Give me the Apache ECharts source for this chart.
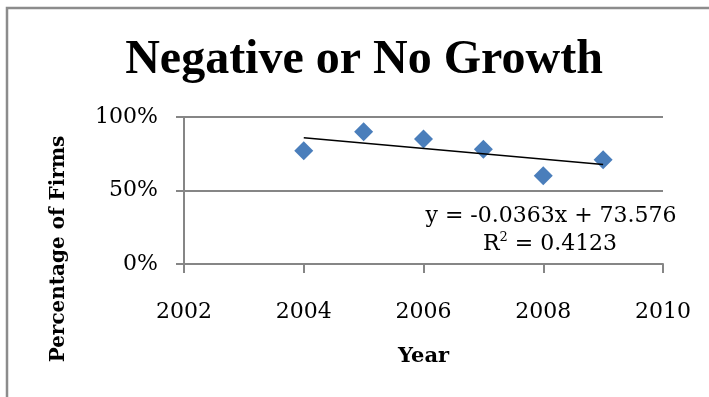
<!DOCTYPE html>
<html>
<head>
<meta charset="utf-8">
<style>
  html, body { margin: 0; padding: 0; background: #ffffff; }
  #chart { width: 709px; height: 397px; }
</style>
<script src="https://cdn.jsdelivr.net/npm/echarts@6/dist/echarts.min.js"></script>
</head>
<body>
<div id="chart"></div>
<script>
// Share of firms reporting negative or no growth, by year
const years = [2004, 2005, 2006, 2007, 2008, 2009];
const shareOfFirms = [0.77, 0.90, 0.85, 0.78, 0.60, 0.71];

// Axis ranges and tick spacing
const xTicks = [2002, 2004, 2006, 2008, 2010];
const yTicks = [0, 0.5, 1];

const titleText = 'Negative or No Growth';
const xTitle = 'Year';
const yTitle = 'Percentage of Firms';

// Ordinary least-squares fit for the linear trendline
function linearFit(xs, ys) {
  const n = xs.length;
  const mx = xs.reduce((s, v) => s + v, 0) / n;
  const my = ys.reduce((s, v) => s + v, 0) / n;
  let sxy = 0, sxx = 0, syy = 0;
  for (let i = 0; i < n; i++) {
    sxy += (xs[i] - mx) * (ys[i] - my);
    sxx += (xs[i] - mx) * (xs[i] - mx);
    syy += (ys[i] - my) * (ys[i] - my);
  }
  const slope = sxy / sxx;
  const intercept = my - slope * mx;
  const r2 = (sxy * sxy) / (sxx * syy);
  return { slope, intercept, r2 };
}

const fit = linearFit(years, shareOfFirms);
const xStart = years[0], xEnd = years[years.length - 1];
const trendData = [
  [xStart, fit.intercept + fit.slope * xStart],
  [xEnd, fit.intercept + fit.slope * xEnd]
];
const eqLine = 'y = ' + fit.slope.toFixed(4) + 'x + ' + fit.intercept.toFixed(3);
const r2Value = fit.r2.toFixed(4);

const axisGray = '#868686';
const tickFont = { fontFamily: 'DejaVu Serif', fontSize: 22, color: '#000' };

const chart = echarts.init(document.getElementById('chart'), null, { renderer: 'canvas' });

chart.setOption({
  animation: false,
  backgroundColor: '#ffffff',
  grid: { left: 184, right: 46, top: 117, bottom: 133, containLabel: false },
  xAxis: {
    type: 'value',
    min: xTicks[0],
    max: xTicks[xTicks.length - 1],
    interval: xTicks[1] - xTicks[0],
    name: xTitle,
    nameLocation: 'middle',
    nameGap: 82,
    nameTextStyle: { fontFamily: 'DejaVu Serif', fontWeight: 'bold', fontSize: 21, color: '#000' },
    axisLine: { show: true, onZero: false, lineStyle: { color: axisGray, width: 2 } },
    axisTick: { show: true, inside: false, length: 9, lineStyle: { color: axisGray, width: 2 } },
    axisLabel: Object.assign({ margin: 37, formatter: v => String(v) }, tickFont),
    splitLine: { show: false }
  },
  yAxis: {
    type: 'value',
    min: yTicks[0],
    max: yTicks[yTicks.length - 1],
    interval: yTicks[1] - yTicks[0],
    axisLine: { show: true, lineStyle: { color: axisGray, width: 2 } },
    axisTick: { show: true, inside: false, length: 8, lineStyle: { color: axisGray, width: 2 } },
    axisLabel: Object.assign({ margin: 26, formatter: v => Math.round(v * 100) + '%' }, tickFont),
    splitLine: { show: true, lineStyle: { color: axisGray, width: 2 } }
  },
  series: [
    {
      name: 'Share of firms',
      type: 'scatter',
      symbol: 'diamond',
      symbolSize: 19,
      itemStyle: { color: '#4a7ebb', opacity: 1 },
      data: years.map((y, i) => [y, shareOfFirms[i]]),
      z: 3
    },
    {
      name: 'Linear trend',
      type: 'line',
      data: trendData,
      showSymbol: false,
      symbol: 'none',
      lineStyle: { color: '#000', width: 1.5 },
      z: 4
    }
  ],
  graphic: [
    {
      type: 'rect',
      shape: { x: 7, y: 8, width: 760, height: 460 },
      style: { fill: 'none', stroke: '#8c8c8c', lineWidth: 2.5 },
      silent: true
    },
    {
      type: 'text',
      x: 364,
      y: 61,
      style: {
        text: titleText,
        fontFamily: 'Liberation Serif',
        fontWeight: 'bold',
        fontSize: 48,
        fill: '#000',
        textAlign: 'center',
        textVerticalAlign: 'middle'
      }
    },
    {
      type: 'text',
      x: 59,
      y: 249,
      rotation: Math.PI / 2,
      style: {
        text: yTitle,
        fontFamily: 'DejaVu Serif',
        fontWeight: 'bold',
        fontSize: 20,
        fill: '#000',
        textAlign: 'center',
        textVerticalAlign: 'middle'
      }
    },
    {
      type: 'text',
      x: 551,
      y: 216,
      z: 10,
      style: {
        text: eqLine,
        fontFamily: 'DejaVu Serif',
        fontSize: 22,
        fill: '#000',
        textAlign: 'center',
        textVerticalAlign: 'middle'
      }
    },
    {
      type: 'text',
      x: 550,
      y: 244,
      z: 10,
      style: {
        text: '{a|R}{b|2}{a| = ' + r2Value + '}',
        textAlign: 'center',
        textVerticalAlign: 'middle',
        rich: {
          a: { fontFamily: 'DejaVu Serif', fontSize: 22, color: '#000', lineHeight: 26 },
          b: { fontFamily: 'DejaVu Serif', fontSize: 13, color: '#000', padding: [0, 0, 12, 0] }
        }
      }
    }
  ]
});
</script>
</body>
</html>
